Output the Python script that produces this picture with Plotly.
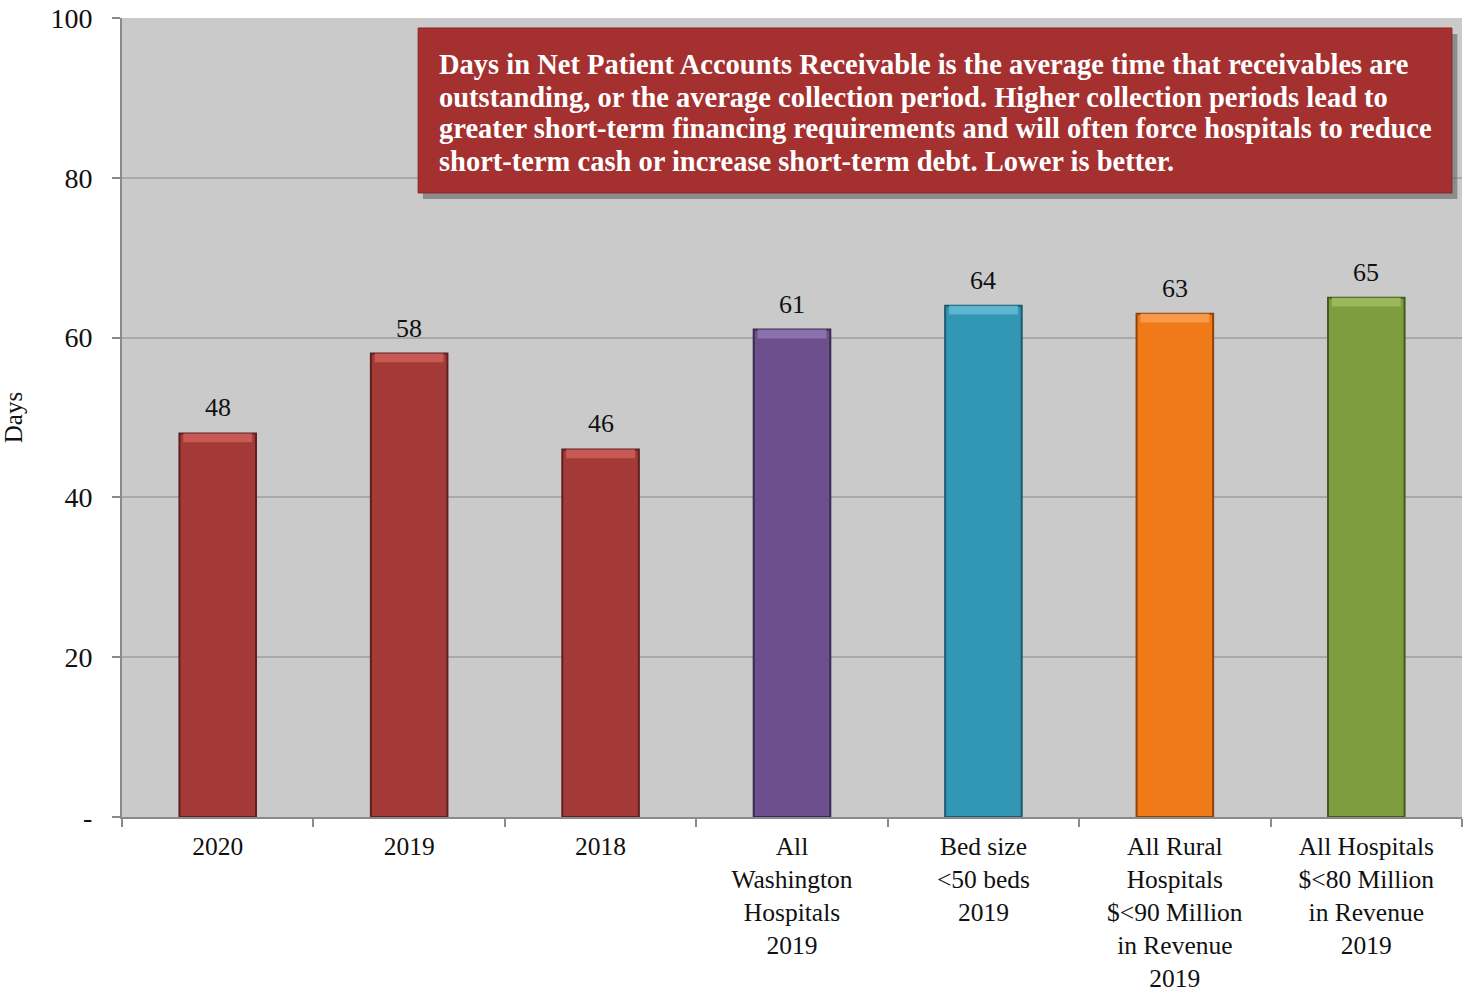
import plotly.graph_objects as go

# Days in net patient accounts receivable
categories = [
    "2020",
    "2019",
    "2018",
    "All<br>Washington<br>Hospitals<br>2019",
    "Bed size<br>&lt;50 beds<br>2019",
    "All Rural<br>Hospitals<br>$&lt;90 Million<br>in Revenue<br>2019",
    "All Hospitals<br>$&lt;80 Million<br>in Revenue<br>2019",
]
days = [48, 58, 46, 61, 64, 63, 65]
bar_colors = ["#a33a37", "#a33a37", "#a33a37", "#6c4f8c", "#3197b5", "#f07a17", "#7e9d3e"]
bevel_colors = ["#c85a56", "#c85a56", "#c85a56", "#8c70ab", "#5cb6d0", "#f89a48", "#9ab85a"]
edge_colors = ["#5e1f1d", "#5e1f1d", "#5e1f1d", "#3a2a50", "#1d5a6c", "#8c4408", "#46591f"]

y_ticks = [0, 20, 40, 60, 80, 100]
y_tick_labels = ["-", "20", "40", "60", "80", "100"]

note_lines = [
    "Days in Net Patient Accounts Receivable is the average time that receivables are",
    "outstanding, or the average collection period. Higher collection periods lead to",
    "greater short-term financing requirements and will often force hospitals to reduce",
    "short-term cash or increase short-term debt. Lower is better.",
]

serif = "Liberation Serif"
bevel_depth = 1.1

fig = go.Figure()

# main bar bodies
fig.add_trace(go.Bar(
    x=categories, y=days,
    marker=dict(color=bar_colors, line=dict(color=edge_colors, width=2)),
    width=0.4,
    hoverinfo="skip",
))

# lighter bevel strip along each bar top
fig.add_trace(go.Bar(
    x=categories, y=[bevel_depth] * len(days),
    base=[v - bevel_depth for v in days],
    marker=dict(color=bevel_colors, line=dict(width=0)),
    width=0.36,
    hoverinfo="skip",
))

# value labels above the bars (x given as category index)
for i, v in enumerate(days):
    fig.add_annotation(
        x=i, y=v, text=str(v), showarrow=False,
        xanchor="center", yanchor="bottom", yshift=9,
        font=dict(family=serif, size=26, color="#111111"),
    )

# explanatory note box with a drop shadow
fig.add_shape(type="rect", xref="paper", yref="paper",
              x0=0.2245, x1=0.9965, y0=0.7735, y1=0.980,
              fillcolor="#5a5a5a", opacity=0.55, line=dict(width=0), layer="above")
fig.add_shape(type="rect", xref="paper", yref="paper",
              x0=0.221, x1=0.9925, y0=0.781, y1=0.9875,
              fillcolor="#a4302f", line=dict(color="#8c2625", width=1), layer="above")

# one annotation per line keeps the line spacing tight
line_y = [0.9424, 0.9011, 0.8611, 0.8198]
for txt, yy in zip(note_lines, line_y):
    fig.add_annotation(
        xref="paper", yref="paper", x=0.2350, y=yy,
        xanchor="left", yanchor="middle", align="left", showarrow=False,
        text="<b>" + txt + "</b>",
        font=dict(family=serif, size=28.5, color="#ffffff"),
    )

fig.update_layout(
    width=1465, height=997,
    margin=dict(l=122, r=3, t=18, b=180),
    paper_bgcolor="#ffffff",
    plot_bgcolor="#cacaca",
    barmode="overlay",
    showlegend=False,
    font=dict(family=serif, size=26, color="#111111"),
)
fig.update_xaxes(
    type="category",
    automargin=False,
    showline=True, linecolor="#8a8a8a", linewidth=2,
    ticks="outside", tickson="boundaries", ticklen=8, tickcolor="#8a8a8a", tickwidth=2,
    ticklabelstandoff=5,
    tickfont=dict(family=serif, size=25.5, color="#111111"),
    showgrid=False,
)
fig.update_yaxes(
    range=[0, 100],
    automargin=False,
    tickvals=y_ticks, ticktext=y_tick_labels,
    showline=True, linecolor="#8a8a8a", linewidth=2,
    ticks="outside", ticklen=8, tickcolor="#8a8a8a", tickwidth=2,
    ticklabelstandoff=14,
    tickfont=dict(family=serif, size=28, color="#111111"),
    showgrid=True, gridcolor="#a9a9a9", gridwidth=1.5,
    zeroline=False,
    title=dict(text="Days", font=dict(family=serif, size=25, color="#111111"), standoff=24),
)

fig.write_html("out.html")
